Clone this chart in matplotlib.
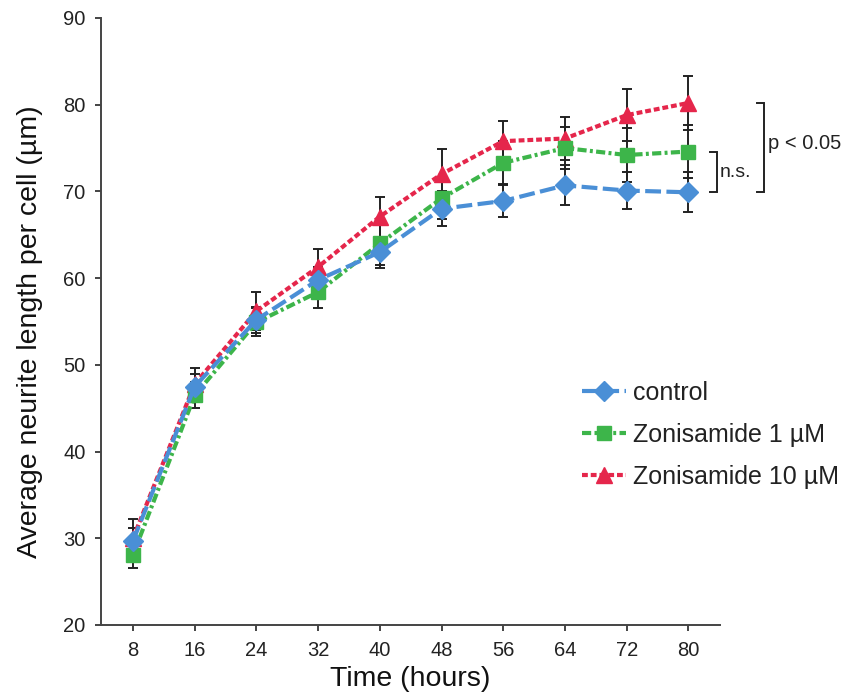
import matplotlib
matplotlib.use("Agg")
import matplotlib.pyplot as plt

plt.rcParams['font.family'] = ['Liberation Sans', 'DejaVu Sans']

hours = [8, 16, 24, 32, 40, 48, 56, 64, 72, 80]
control = [29.7, 47.5, 55.2, 59.8, 63.0, 68.0, 68.9, 70.7, 70.1, 69.9]
control_err = [1.5, 1.5, 1.5, 1.5, 1.8, 2.0, 1.8, 2.3, 2.1, 2.3]
zon1 = [28.1, 46.5, 54.9, 58.4, 64.0, 69.2, 73.3, 75.0, 74.2, 74.6]
zon1_err = [1.5, 1.5, 1.6, 1.9, 2.5, 2.4, 2.5, 2.4, 3.1, 3.1]
zon10 = [30.0, 47.8, 56.2, 61.3, 67.1, 72.0, 75.8, 76.1, 78.8, 80.2]
zon10_err = [2.2, 1.8, 2.2, 2.1, 2.3, 2.9, 2.3, 2.5, 3.0, 3.1]
labels = ['control', 'Zonisamide 1 µM', 'Zonisamide 10 µM']
xticks = hours
yticks = [20, 30, 40, 50, 60, 70, 80, 90]

c_blue = '#4a8fd6'
c_green = '#3db54a'
c_red = '#e5264b'

fig = plt.figure(figsize=(8.45, 6.95), dpi=100)
ax = fig.add_axes([101/845, 1-625/695, (720-101)/845, (625-18)/695])

for y, e in [(zon10, zon10_err), (zon1, zon1_err), (control, control_err)]:
    ax.errorbar(hours, y, yerr=e, fmt='none', ecolor='#222222', elinewidth=1.4,
                capsize=3.5, capthick=1.4, zorder=1)

l10, = ax.plot(hours, zon10, color=c_red, lw=3, dashes=(1.4, 0.7), marker='^',
               ms=12, mec=c_red, zorder=2, label=labels[2])
l1, = ax.plot(hours, zon1, color=c_green, lw=3, dashes=(2.2, 0.8, 0.7, 0.8), marker='s',
              ms=10, mec=c_green, zorder=3, label=labels[1])
lc, = ax.plot(hours, control, color=c_blue, lw=3, dashes=(3.8, 1.3), marker='D',
              ms=10, mec=c_blue, zorder=4, label=labels[0])

ax.set_xlim(3.85, 84.1)
ax.set_ylim(20, 90)
ax.set_xticks(xticks)
ax.set_yticks(yticks)
ax.spines['top'].set_visible(False)
ax.spines['right'].set_visible(False)
for s in ['left', 'bottom']:
    ax.spines[s].set_linewidth(1.4)
    ax.spines[s].set_color('#444444')
ax.tick_params(axis='both', direction='out', length=4.5, width=1.4, color='#444444',
               labelsize=14.5, labelcolor='#222222')
ax.tick_params(axis='x', pad=7)
ax.tick_params(axis='y', pad=6.5)
ax.set_xlabel('Time (hours)', fontsize=20.5, color='#111111', labelpad=4.5)
ax.set_ylabel('Average neurite length per cell (µm)', fontsize=20.5, color='#111111')
ax.yaxis.set_label_coords(-0.094, 0.483)

leg = ax.legend(handles=[lc, l1, l10], loc='upper left', bbox_to_anchor=(582/845, 1-381/695),
                bbox_transform=fig.transFigure, frameon=False, fontsize=18,
                handlelength=1.75, handletextpad=0.3, labelspacing=0.72, numpoints=1,
                borderaxespad=0, borderpad=0)
for t in leg.get_texts():
    t.set_color('#222222')

# significance brackets
def bracket(x0, x1, y0, y1):
    ax.plot([x0, x1, x1, x0], [y1, y1, y0, y0], color='#222222', lw=1.4,
            clip_on=False, solid_joinstyle='miter')

bracket(82.8, 83.7, 69.9, 74.6)
ax.text(84.0, 72.2, 'n.s.', fontsize=14, va='center', ha='left', color='#222222')
bracket(88.9, 89.8, 69.9, 80.2)
ax.text(90.3, 75.5, 'p < 0.05', fontsize=14.5, va='center', ha='left', color='#222222')

fig.savefig('out.png', dpi=100)
